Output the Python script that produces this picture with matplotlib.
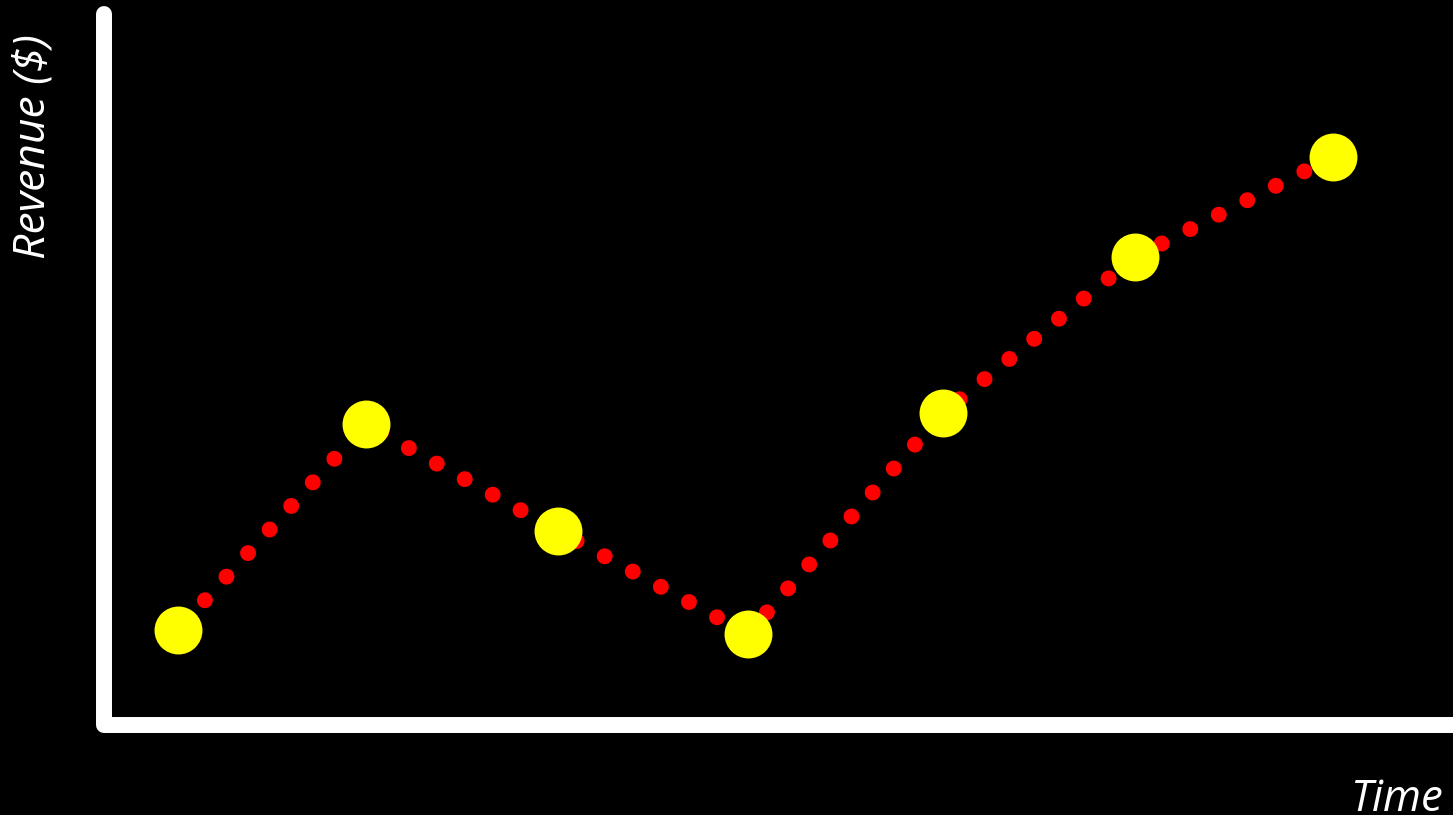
import matplotlib
matplotlib.use("Agg")
import matplotlib.pyplot as plt

# --- Data --- #
time_idx = [1.0, 1.977, 2.974, 3.961, 4.974, 5.971, 7.0]
revenue = [13.4, 42.3, 27.3, 12.8, 43.9, 65.8, 79.9]

plt.rcParams['font.family'] = ['Open Sans', 'DejaVu Sans']

fig = plt.figure(figsize=(14.53, 8.15), dpi=100, facecolor='black')
W, H = 1453, 815
ax = fig.add_axes([104 / W, (H - 725) / H, 1 - 104 / W, (725 - 14) / H])
ax.set_facecolor('black')
ax.set_xlim(0.616, 7.624)
ax.set_ylim(0, 100)
ax.axis('off')

# Axis lines drawn as one polyline so the corner is rounded
ax.plot([0, 0, 1.02], [1, 0, 0], transform=ax.transAxes, color='white', lw=11.5,
        solid_capstyle='round', solid_joinstyle='round', clip_on=False, zorder=1)

# Red dotted line
ax.plot(time_idx, revenue, color='red', lw=11.5, linestyle=(1.5, (0.001, 2.0)),
        dash_capstyle='round', zorder=2)

# Yellow markers
ax.plot(time_idx, revenue, linestyle='none', marker='o', markersize=34.5,
        markerfacecolor='yellow', markeredgewidth=0, zorder=3)

fig.text(33 / W, 1 - 34 / H, 'Revenue ($)', rotation=90, ha='center', va='top',
         color='white', fontsize=32, fontstyle='italic')
fig.text(1443 / W, 4 / H, 'Time', ha='right', va='baseline',
         color='white', fontsize=31.5, fontstyle='italic')

fig.savefig('out.png', dpi=100, facecolor='black')
